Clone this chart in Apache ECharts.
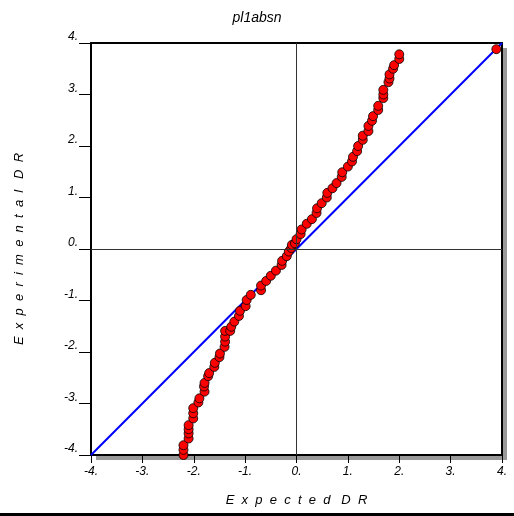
<!DOCTYPE html>
<html>
<head>
<meta charset="utf-8">
<script src="https://cdn.jsdelivr.net/npm/echarts@6/dist/echarts.min.js"></script>
<style>html,body{margin:0;padding:0;background:#fff;}#c{width:514px;height:516px;}</style>
</head>
<body>
<div id="c"></div>
<script>
var titleText = 'pl1absn';
var xName = 'E  x  p  e  c  t  e  d   D  R';
var yName = 'E  x  p  e  r  i  m  e  n  t  a  l   D  R';
var tickValues = [-4, -3, -2, -1, 0, 1, 2, 3, 4];
var expectedDR = [-2.20,-2.20,-2.20,-2.10,-2.10,-2.10,-2.10,-2.01,-2.01,-2.01,-1.91,-1.89,-1.79,-1.80,-1.79,-1.72,-1.70,-1.60,-1.59,-1.50,-1.49,-1.40,-1.39,-1.39,-1.39,-1.29,-1.27,-1.21,-1.12,-1.10,-0.99,-0.97,-0.89,-0.69,-0.69,-0.59,-0.50,-0.40,-0.29,-0.28,-0.19,-0.15,-0.10,-0.09,-0.03,0.00,0.08,0.10,0.20,0.30,0.39,0.40,0.49,0.59,0.60,0.70,0.78,0.88,0.89,1.00,1.08,1.10,1.18,1.20,1.29,1.29,1.40,1.40,1.47,1.49,1.59,1.59,1.69,1.69,1.69,1.79,1.81,1.81,1.88,1.90,2.00,2.00,3.89];
var experimentalDR = [-4.00,-3.90,-3.81,-3.68,-3.58,-3.50,-3.42,-3.29,-3.19,-3.09,-2.98,-2.90,-2.77,-2.67,-2.60,-2.47,-2.41,-2.29,-2.21,-2.10,-2.03,-1.90,-1.80,-1.70,-1.59,-1.59,-1.51,-1.41,-1.30,-1.20,-1.11,-0.99,-0.89,-0.80,-0.71,-0.62,-0.52,-0.42,-0.31,-0.23,-0.14,-0.05,0.02,0.08,0.11,0.19,0.29,0.38,0.49,0.58,0.70,0.79,0.89,1.00,1.09,1.18,1.28,1.40,1.49,1.60,1.70,1.79,1.90,2.00,2.12,2.20,2.29,2.39,2.49,2.58,2.70,2.78,2.93,3.00,3.09,3.24,3.31,3.39,3.50,3.57,3.69,3.78,3.88];
var identityLine = [[-4, -4], [4, 4]];

var pts = expectedDR.map(function (x, i) { return [x, experimentalDR[i]]; });
var font = '"Liberation Sans", Arial, sans-serif';
var chart = echarts.init(document.getElementById('c'), null, {renderer: 'canvas'});
var minV = tickValues[0], maxV = tickValues[tickValues.length - 1];
function axisMain(name, nameGap, isY) {
  return {
    type: 'value', min: minV, max: maxV, interval: 1,
    position: isY ? 'left' : 'bottom',
    name: name, nameLocation: 'middle', nameGap: nameGap,
    nameTextStyle: {fontFamily: font, fontStyle: 'italic', fontSize: 13, color: '#000'},
    axisLine: {show: true, onZero: false, lineStyle: {color: '#000', width: 2}},
    axisTick: {show: true, length: isY ? 12 : 8, lineStyle: {color: '#000', width: 1}},
    axisLabel: {
      show: true, margin: isY ? 13 : 11, color: '#000', fontFamily: font, fontStyle: 'italic', fontSize: 12,
      formatter: function (v) { return v + '.'; },
      verticalAlign: isY ? 'bottom' : 'top'
    },
    splitLine: {show: false}
  };
}
function axisFrame(isY) {
  return {
    type: 'value', min: minV, max: maxV, interval: 1,
    position: isY ? 'right' : 'top',
    axisLine: {show: true, onZero: false, lineStyle: {color: '#000', width: 2}},
    axisTick: {show: false}, axisLabel: {show: false}, splitLine: {show: false}
  };
}
chart.setOption({
  animation: false,
  backgroundColor: '#fff',
  title: {text: titleText, left: 'center', top: 6,
    textStyle: {fontFamily: font, fontStyle: 'italic', fontWeight: 'normal', fontSize: 14, color: '#000'}},
  grid: {left: 91, right: 12, top: 43, bottom: 61, show: true, backgroundColor: '#fff',
    borderWidth: 0, shadowColor: '#999', shadowBlur: 0, shadowOffsetX: 5, shadowOffsetY: 5},
  xAxis: [axisMain(xName, 39, false), axisFrame(false)],
  yAxis: [axisMain(yName, 65, true), axisFrame(true)],
  graphic: [{type: 'rect', left: 0, bottom: 0, shape: {width: 514, height: 3}, style: {fill: '#000'}}],
  series: [
    {type: 'line', data: identityLine, symbol: 'none', lineStyle: {color: '#0000ff', width: 2}, z: 2,
     markLine: {silent: true, symbol: 'none', label: {show: false},
       lineStyle: {color: '#333', width: 1, type: 'solid'},
       data: [{xAxis: 0}, {yAxis: 0}]}},
    {type: 'scatter', data: pts, symbol: 'circle', symbolSize: 9, z: 3,
     itemStyle: {color: '#ff0000', borderColor: '#000', borderWidth: 0.8, opacity: 1}}
  ]
});
</script>
</body>
</html>
